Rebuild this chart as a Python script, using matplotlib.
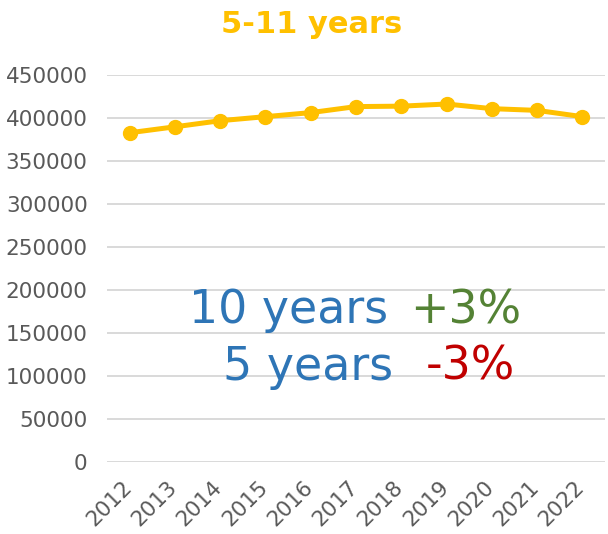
import matplotlib.pyplot as plt
import matplotlib.transforms as mtransforms

# 5-11 year olds, yearly totals
years = ["2012", "2013", "2014", "2015", "2016", "2017",
         "2018", "2019", "2020", "2021", "2022"]
pupils = [382600, 389500, 396600, 401300, 406000, 413000,
          413500, 416000, 410600, 408600, 401300]
yticks = [0, 50000, 100000, 150000, 200000, 250000,
          300000, 350000, 400000, 450000]

gold = "#FFC000"
grey = "#595959"
blue = "#2E75B6"
green = "#548235"
red = "#C00000"

fig = plt.figure(figsize=(6.08, 5.34), dpi=100)
ax = fig.add_axes([0.176, 0.135, 0.819, 0.725])

x = list(range(len(years)))
ax.plot(x, pupils, color=gold, lw=3.6, marker="o", ms=10, zorder=3)

ax.set_xlim(-0.5, len(years) - 0.5)
ax.set_ylim(0, 450000)
ax.set_yticks(yticks)
ax.set_yticklabels([str(v) for v in yticks])
ax.set_xticks(x)
ax.set_xticklabels(years, rotation=45, ha="right", rotation_mode="anchor")
ax.tick_params(length=0, colors=grey, labelsize=15.5)
ax.tick_params(axis="y", pad=14)
ax.tick_params(axis="x", pad=11)
ax.yaxis.grid(True, color="#D9D9D9", lw=1.4)
ax.set_axisbelow(True)
for s in ax.spines.values():
    s.set_visible(False)

# nudge the rotated year labels left so they sit under their points
shift = mtransforms.ScaledTranslation(-0.08, 0, fig.dpi_scale_trans)
for lab in ax.get_xticklabels():
    lab.set_transform(lab.get_transform() + shift)

fig.text(0.512, 0.955, "5-11 years", color=gold, fontsize=22,
         fontweight="bold", ha="center", va="center")

# change summary
big = 33
fig.text(388 / 608, 1 - 323 / 534, "10 years", color=blue, fontsize=big,
         ha="right", va="baseline")
fig.text(410 / 608, 1 - 323 / 534, "+3%", color=green, fontsize=big,
         ha="left", va="baseline")
fig.text(393 / 608, 1 - 380 / 534, "5 years", color=blue, fontsize=big,
         ha="right", va="baseline")
fig.text(426 / 608, 1 - 380 / 534, "-3%", color=red, fontsize=big,
         ha="left", va="baseline")

fig.savefig("out.png", dpi=100)
